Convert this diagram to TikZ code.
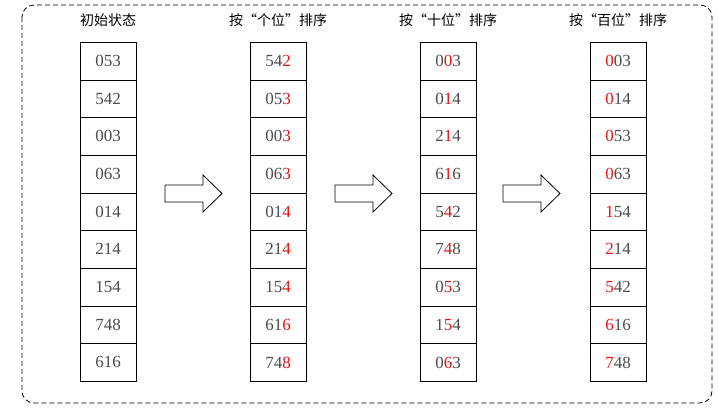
\documentclass[tikz,border=0pt]{standalone}
\usepackage{fontspec}
\setmainfont{Liberation Serif}
\newfontfamily\cjk{Noto Sans CJK SC}
\usetikzlibrary{positioning}
\definecolor{digred}{RGB}{230,20,20}
\tikzset{
  cell/.style={draw, minimum width=56pt, minimum height=37.7pt, inner sep=0pt, font=\fontsize{17}{17}\selectfont, text=black!70},
  head/.style={font=\cjk\fontsize{14}{14}\selectfont},
}
\newcommand{\hollowArrow}[1]{\draw[thick] (#1,185) -- (#1+38,185) -- (#1+38,175) -- (#1+57,193.5) -- (#1+38,212) -- (#1+38,202) -- (#1,202) -- cycle;}

\begin{document}
\begin{tikzpicture}[x=1pt,y=-1pt]
        \useasboundingbox (0,0) rectangle (718,415);
        \draw[black, thick, dash pattern=on 5pt off 3pt, rounded corners=12pt] (22,5) rectangle (712,403);

        % column headers
        \node[head] (h0) at (108,20) {初始状态};
        \node[head] (h1) at (278,20) {按“个位”排序};
        \node[head] (h2) at (448,20) {按“十位”排序};
        \node[head] (h3) at (618,20) {按“百位”排序};

        % first column, plain
        \foreach \v [count=\i] in {053,542,003,063,014,214,154,748,616}
            \node[cell] (a\i) at (108,42+\i*37.7-18.85) {\v};

        % sorted by ones
        \foreach \p/\d [count=\i] in {54/2,05/3,00/3,06/3,01/4,21/4,15/4,61/6,74/8}
            \node[cell] (b\i) at (278,42+\i*37.7-18.85) {\p\textcolor{digred}{\d}};

        % sorted by tens
        \foreach \p/\d/\s [count=\i] in {0/0/3,0/1/4,2/1/4,6/1/6,5/4/2,7/4/8,0/5/3,1/5/4,0/6/3}
            \node[cell] (c\i) at (448,42+\i*37.7-18.85) {\p\textcolor{digred}{\d}\s};

        % sorted by hundreds
        \foreach \d/\s [count=\i] in {0/03,0/14,0/53,0/63,1/54,2/14,5/42,6/16,7/48}
            \node[cell] (d\i) at (618,42+\i*37.7-18.85) {\textcolor{digred}{\d}\s};

        \hollowArrow{165}
        \hollowArrow{335}
        \hollowArrow{503}
\end{tikzpicture}
\end{document}
